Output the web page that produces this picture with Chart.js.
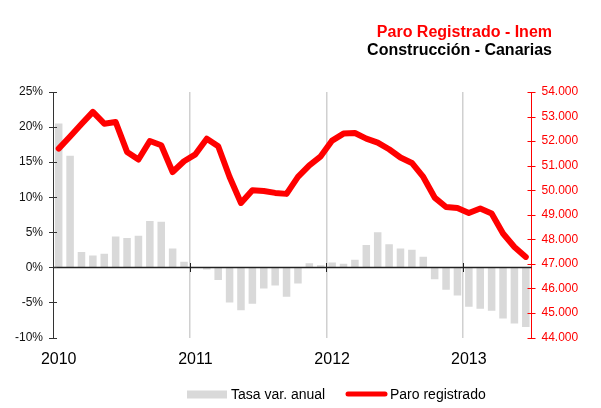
<!DOCTYPE html>
<html>
<head>
<meta charset="utf-8">
<script src="https://cdn.jsdelivr.net/npm/chart.js@4"></script>
<style>
  body{margin:0;background:#fff;}
  #wrap{width:601px;height:408px;}
</style>
</head>
<body>
<div id="wrap"><canvas id="c" width="601" height="408"></canvas></div>
<script>
// ===== Data =====
const months = [
  'ene-10','feb-10','mar-10','abr-10','may-10','jun-10','jul-10','ago-10','sep-10','oct-10','nov-10','dic-10',
  'ene-11','feb-11','mar-11','abr-11','may-11','jun-11','jul-11','ago-11','sep-11','oct-11','nov-11','dic-11',
  'ene-12','feb-12','mar-12','abr-12','may-12','jun-12','jul-12','ago-12','sep-12','oct-12','nov-12','dic-12',
  'ene-13','feb-13','mar-13','abr-13','may-13','jun-13'
];
const yearTicks = {0:'2010', 12:'2011', 24:'2012', 36:'2013'};
// tasa de variación anual (%)
const tasa = [
  20.5, 15.9, 2.2, 1.7, 1.95, 4.4, 4.2, 4.5, 6.6, 6.5, 2.7, 0.8,
  0, -0.3, -1.8, -5.0, -6.1, -5.2, -3.0, -2.6, -4.2, -2.3, 0.6, 0.3,
  0.7, 0.5, 1.1, 3.2, 5.0, 3.3, 2.7, 2.5, 1.5, -1.7, -3.2, -4.0,
  -5.6, -5.9, -6.2, -7.3, -8.0, -8.5
];
// paro registrado (personas)
const paro = [
  51695, 52190, 52700, 53190, 52710, 52780, 51560, 51250, 52005, 51830, 50740, 51180,
  51460, 52100, 51790, 50540, 49480, 50000, 49970, 49890, 49850, 50540, 51015, 51380,
  52020, 52306, 52330, 52100, 51940, 51667, 51330, 51110, 50540, 49700, 49318, 49277,
  49073, 49253, 49049, 48234, 47689, 47282
];
const leftTicks = {min:-10, max:25, step:5};
const rightTicks = {min:44000, max:54000, step:1000};
const titleLines = ['Paro Registrado - Inem', 'Construcción - Canarias'];
const legendNames = ['Tasa var. anual', 'Paro registrado'];

// ===== Styles =====
const FONT = '"Liberation Sans", Arial, sans-serif';
const RED = '#ff0000';
const BAR = '#d9d9d9';
const fmt = n => new Intl.NumberFormat('de-DE').format(n);

// ===== Decor plugin: titles, legend, axis ticks, zero line =====
const decor = {
  id:'decor',
  afterDatasetsDraw(chart){
    const {ctx, chartArea:a, scales} = chart;
    const x = scales.x, yl = scales.y, yr = scales.y1;
    ctx.save();

    // zero line with year ticks
    const y0 = Math.round(yl.getPixelForValue(0)) + 0.5;
    ctx.strokeStyle = '#222'; ctx.lineWidth = 1.5;
    ctx.beginPath(); ctx.moveTo(a.left, y0); ctx.lineTo(a.right, y0); ctx.stroke();
    ctx.lineWidth = 1;
    Object.keys(yearTicks).map(Number).filter(i=>i>0).forEach(i=>{
      const bx = Math.round((x.getPixelForValue(i-1) + x.getPixelForValue(i))/2) + 0.5;
      ctx.beginPath(); ctx.moveTo(bx, y0-4.5); ctx.lineTo(bx, y0+4.5); ctx.stroke();
    });

    // left axis ticks
    ctx.strokeStyle = '#333';
    for(let v=leftTicks.min; v<=leftTicks.max; v+=leftTicks.step){
      const py = Math.round(yl.getPixelForValue(v)) + 0.5;
      ctx.beginPath(); ctx.moveTo(a.left-4, py); ctx.lineTo(a.left+4, py); ctx.stroke();
    }
    // right axis ticks
    ctx.strokeStyle = RED;
    for(let v=rightTicks.min; v<=rightTicks.max; v+=rightTicks.step){
      const py = Math.round(yr.getPixelForValue(v)) + 0.5;
      ctx.beginPath(); ctx.moveTo(a.right-4, py); ctx.lineTo(a.right+4, py); ctx.stroke();
    }

    // titles
    ctx.font = 'bold 16px ' + FONT; ctx.textAlign = 'right'; ctx.textBaseline = 'alphabetic';
    ctx.fillStyle = RED; ctx.fillText(titleLines[0], 552, 36.5);
    ctx.fillStyle = '#000'; ctx.fillText(titleLines[1], 552, 55);

    // legend
    ctx.textAlign = 'left'; ctx.font = '14px ' + FONT; ctx.fillStyle = BAR;
    ctx.fillRect(187, 390.5, 40, 8);
    ctx.fillStyle = '#000'; ctx.fillText(legendNames[0], 231, 398.7);
    ctx.strokeStyle = RED; ctx.lineWidth = 5; ctx.lineCap = 'round';
    ctx.beginPath(); ctx.moveTo(348, 394); ctx.lineTo(385, 394); ctx.stroke();
    ctx.fillText(legendNames[1], 390, 398.7);

    ctx.restore();
  }
};

// ===== Chart =====
new Chart(document.getElementById('c'), {
  data:{
    labels: months,
    datasets:[
      {type:'line', label:legendNames[1], data:paro, yAxisID:'y1', order:0,
       borderColor:RED, borderWidth:6, pointRadius:0, tension:0,
       borderJoinStyle:'round', borderCapStyle:'round', fill:false},
      {type:'bar', label:legendNames[0], data:tasa, yAxisID:'y', order:1,
       backgroundColor:BAR, barPercentage:1, categoryPercentage:0.66}
    ]
  },
  options:{
    responsive:false, animation:false,
    layout:{padding:{top:92, left:0, right:0, bottom:0}},
    plugins:{legend:{display:false}, title:{display:false}, tooltip:{enabled:false}},
    scales:{
      x:{
        offset:true,
        border:{display:false},
        grid:{offset:true, drawTicks:false, lineWidth:1.5,
              color:c=>(c.index>0 && c.index%12===0 && c.index<months.length) ? '#d0d0d0' : 'rgba(0,0,0,0)'},
        ticks:{autoSkip:false, maxRotation:0, padding:12, color:'#000',
               font:{family:FONT, size:16},
               callback:(v,i)=>yearTicks[i] || ''},
        afterFit:s=>{ s.height = 70.5; }
      },
      y:{
        position:'left', min:leftTicks.min, max:leftTicks.max,
        border:{display:true, color:'#333', width:1},
        grid:{display:false, drawTicks:false},
        ticks:{stepSize:leftTicks.step, padding:10, color:'#111',
               font:{family:FONT, size:12}, callback:v=>v+'%'},
        afterFit:s=>{ s.width = 53; }
      },
      y1:{
        position:'right', min:rightTicks.min, max:rightTicks.max,
        border:{display:true, color:RED, width:1},
        grid:{display:false, drawTicks:false},
        ticks:{stepSize:rightTicks.step, padding:10, color:RED,
               font:{family:FONT, size:12}, callback:v=>fmt(v)},
        afterFit:s=>{ s.width = 69.5; }
      }
    }
  },
  plugins:[decor]
});
</script>
</body>
</html>
